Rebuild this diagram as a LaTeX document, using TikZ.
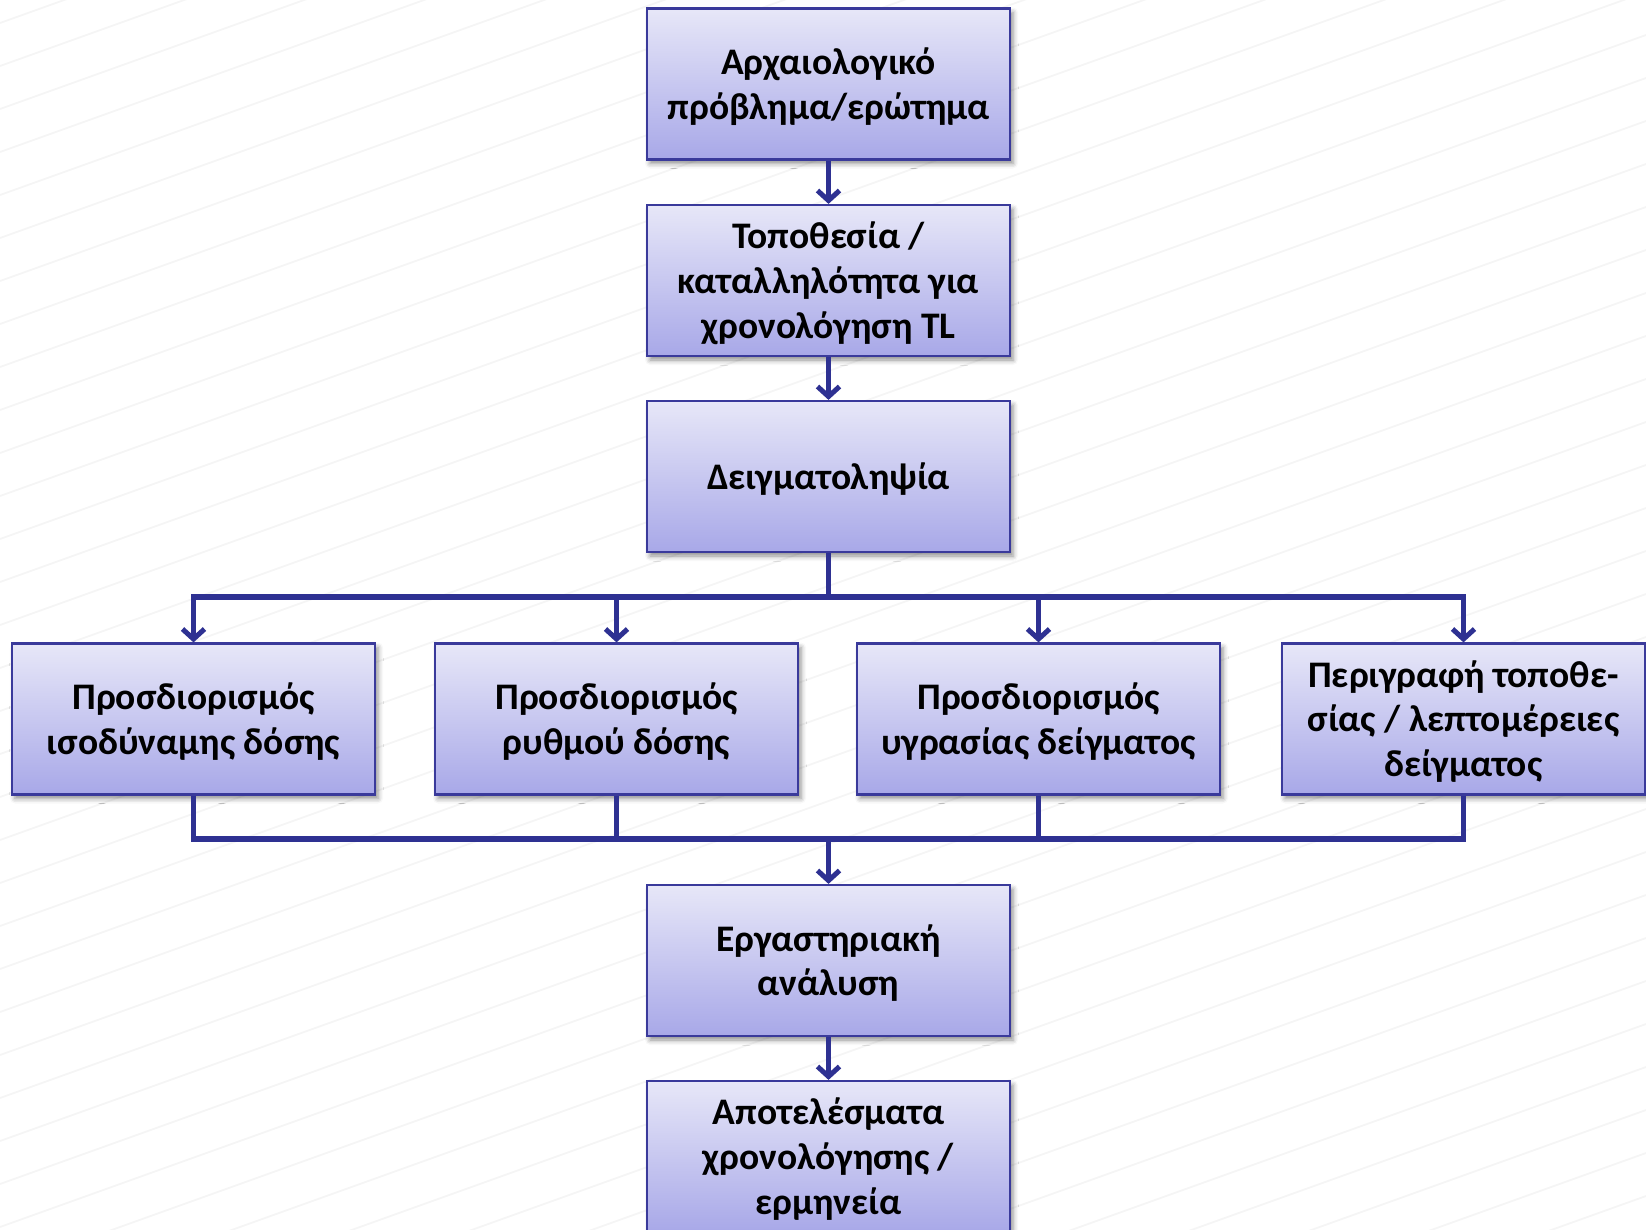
\documentclass[tikz,border=0pt]{standalone}
\usepackage{fontspec}
\setmainfont{Carlito}
\usetikzlibrary{arrows.meta,shadows.blur}

\definecolor{boxtop}{RGB}{231,231,248}
\definecolor{boxbot}{RGB}{168,168,232}
\definecolor{boxedge}{RGB}{58,58,155}
\definecolor{linknavy}{RGB}{46,49,146}
\definecolor{stripe}{RGB}{245,245,245}

% centred lines with an even line pitch, nudged a little below the middle
\newcommand\steplines[1]{%
  \raisebox{-4pt}[\height][\depth]{\begin{tabular}{@{}c@{}}#1\end{tabular}}}

\tikzset{
  stepbox/.style={
    rectangle, draw=boxedge, line width=2.2pt,
    top color=boxtop, bottom color=boxbot,
    minimum width=363pt, minimum height=151pt, inner sep=0pt,
    font=\fontsize{37.5}{44.6}\selectfont\bfseries,
    blur shadow={shadow xshift=3pt, shadow yshift=-4pt,
                 shadow blur radius=5pt, shadow opacity=45}
  },
  link/.style={draw=linknavy, line width=5.5pt},
  linkarrow/.style={link, -{Straight Barb[length=10pt,width=22pt,line width=5pt]}},
}

\begin{document}
\begin{tikzpicture}[x=1pt,y=-1pt]
  \useasboundingbox (0,0) rectangle (1646,1229);

  % faint diagonal stripes of the backdrop
  \begin{scope}
    \clip (0,0) rectangle (1646,1229);
    \foreach \k in {0,...,43}{
      \draw[stripe, line width=1.8pt] (0,{23+43*\k}) -- (1646,{23+43*\k-590});
    }
  \end{scope}

  % main column
  \node[stepbox] (problem)  at (828.5,84)    {\steplines{Αρχαιολογικό\\πρόβλημα/ερώτημα}};
  \node[stepbox] (site)     at (828.5,280.5) {\steplines{Τοποθεσία /\\καταλληλότητα για\\χρονολόγηση TL}};
  \node[stepbox] (sampling) at (828.5,476.5) {\steplines{Δειγματοληψία}};

  % four parallel determinations
  \node[stepbox] (equiv) at (193.5,719)  {\steplines{Προσδιορισμός\\ισοδύναμης δόσης}};
  \node[stepbox] (rate)  at (616.5,719)  {\steplines{Προσδιορισμός\\ρυθμού δόσης}};
  \node[stepbox] (moist) at (1038.5,719) {\steplines{Προσδιορισμός\\υγρασίας δείγματος}};
  \node[stepbox] (descr) at (1463.5,719) {\steplines{Περιγραφή τοποθε-\\σίας / λεπτομέρειες\\δείγματος}};

  \node[stepbox] (lab)     at (828.5,960.5)  {\steplines{Εργαστηριακή\\ανάλυση}};
  \node[stepbox] (results) at (828.5,1156.5) {\steplines{Αποτελέσματα\\χρονολόγησης /\\ερμηνεία}};

  \coordinate (split) at (828.5,597);
  \coordinate (merge) at (828.5,839);

  % connectors
  \draw[linkarrow] (problem.south) -- (site.north);
  \draw[linkarrow] (site.south) -- (sampling.north);
  \draw[link] (sampling.south) -- (split);
  \foreach \n in {equiv,rate,moist,descr}{
    \draw[linkarrow] (split) -| (\n.north);
    \draw[link] (\n.south) |- (merge);
  }
  \draw[linkarrow] (merge) -- (lab.north);
  \draw[linkarrow] (lab.south) -- (results.north);
\end{tikzpicture}
\end{document}
